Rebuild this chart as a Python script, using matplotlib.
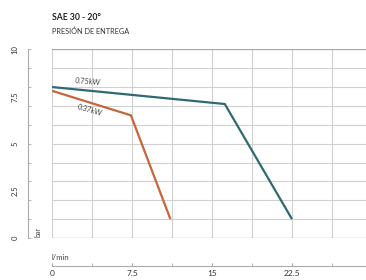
import matplotlib
matplotlib.use("Agg")
import matplotlib.pyplot as plt
from matplotlib.ticker import FixedLocator, FixedFormatter

plt.rcParams['font.family'] = ['Lato', 'DejaVu Sans']

# Data
x_075 = [0, 16.2, 22.5]
y_075 = [8.0, 7.1, 1.0]
x_037 = [0, 7.4, 11.1]
y_037 = [7.8, 6.5, 1.0]
series_labels = ['0.75kW', '0.37kW']
x_ticks = [0, 7.5, 15, 22.5, 30]
x_tick_labels = ['0', '7.5', '15', '22.5', '30']
y_ticks = [0, 2.5, 5, 7.5, 10]
y_tick_labels = ['0', '2.5', '5', '7.5', '10']

W, H = 366, 280
fig = plt.figure(figsize=(W / 100, H / 100), dpi=100)
left, right, top, bottom = 52, 372, 49.3, 238
ax = fig.add_axes([left / W, 1 - bottom / H, (right - left) / W, (bottom - top) / H])
ax.set_xlim(0, 30)
ax.set_ylim(0, 10)

teal = '#2f6a74'
orange = '#c4673a'
ax.plot(x_075, y_075, color=teal, lw=1.6, solid_capstyle='butt', zorder=3)
ax.plot(x_037, y_037, color=orange, lw=1.6, solid_capstyle='butt', zorder=3)

ax.text(3.4, 8.28, series_labels[0], fontsize=5.2, color='#444444', rotation=-5,
        ha='center', va='center')
ax.text(3.5, 6.8, series_labels[1], fontsize=5.2, color='#444444', rotation=-16,
        ha='center', va='center')

# grid
grid_c = '#d0d0d0'
ax.xaxis.set_major_locator(FixedLocator(x_ticks))
ax.xaxis.set_major_formatter(FixedFormatter(x_tick_labels))
ax.xaxis.set_minor_locator(FixedLocator([3.75 * i for i in range(9)]))
ax.xaxis.remove_overlapping_locs = False
ax.yaxis.set_major_locator(FixedLocator(y_ticks))
ax.yaxis.set_major_formatter(FixedFormatter(y_tick_labels))
ax.yaxis.set_minor_locator(FixedLocator(list(range(11))))
ax.yaxis.remove_overlapping_locs = False
ax.grid(False)
ax.xaxis.grid(True, which='minor', color=grid_c, lw=0.8)
ax.yaxis.grid(True, which='minor', color=grid_c, lw=0.8)
ax.axhline(10, color='#a8a8a8', lw=0.9)
ax.axhline(0, color='#a8a8a8', lw=0.9)
ax.set_axisbelow(True)

for s in ['top', 'right']:
    ax.spines[s].set_visible(False)
ax.spines['left'].set_position(('outward', 24 * 0.72))
ax.spines['bottom'].set_position(('outward', 28 * 0.72))
ax.spines['left'].set_color('#aaaaaa')
ax.spines['bottom'].set_color('#aaaaaa')
ax.spines['left'].set_linewidth(0.8)
ax.spines['bottom'].set_linewidth(0.8)

ax.tick_params(axis='x', which='major', direction='in', length=2.2, color='#aaaaaa',
               labelsize=6, labelcolor='#333333', pad=3)
ax.tick_params(axis='x', which='minor', direction='in', length=2.2, color='#aaaaaa')
ax.tick_params(axis='y', which='major', direction='in', length=0,
               labelsize=5.5, labelcolor='#333333', pad=7, labelrotation=90)
ax.tick_params(axis='y', which='minor', direction='in', length=2.2, color='#aaaaaa')
for lbl in ax.get_yticklabels():
    lbl.set_va('center')

fig.text(52 / W, 1 - 17 / H, 'SAE 30 - 20°', fontsize=6.2, fontweight='bold',
         color='#222222', ha='left', va='center')
fig.text(52 / W, 1 - 31 / H, 'PRESIÓN DE ENTREGA', fontsize=5.3, color='#333333',
         ha='left', va='center')
fig.text(38 / W, 1 - 232 / H, 'bar', fontsize=5, color='#444444', rotation=90,
         ha='center', va='center')
fig.text(52 / W, 1 - 257 / H, 'l/min', fontsize=5.5, color='#444444',
         ha='left', va='center')

fig.savefig('out.png', dpi=100)
